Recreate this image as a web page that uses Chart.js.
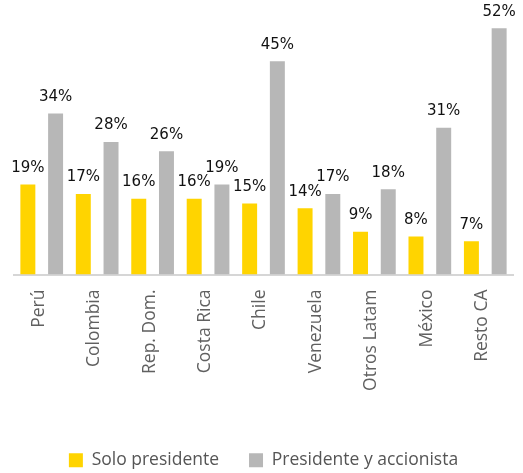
<!DOCTYPE html>
<html>
<head>
<meta charset="utf-8">
<script src="https://cdn.jsdelivr.net/npm/chart.js@4/dist/chart.umd.min.js"></script>
<style>
  html, body { margin: 0; padding: 0; background: #fff; }
  #wrap { width: 523px; height: 473px; }
</style>
</head>
<body>
<div id="wrap"><canvas id="chart"></canvas></div>
<script>
// Countries on the x axis
const categories = ['Perú', 'Colombia', 'Rep. Dom.', 'Costa Rica', 'Chile', 'Venezuela', 'Otros Latam', 'México', 'Resto CA'];

// Share of each answer, in percent
const soloPresidente = [19, 17, 16, 16, 15, 14, 9, 8, 7];
const presidenteAccionista = [34, 28, 26, 19, 45, 17, 18, 31, 52];

const seriesNames = ['Solo presidente', 'Presidente y accionista'];

// Draw the value above each bar
const valueLabels = {
  id: 'valueLabels',
  afterDatasetsDraw(chart) {
    const ctx = chart.ctx;
    ctx.save();
    ctx.font = '15px "DejaVu Sans"';
    ctx.fillStyle = '#111';
    ctx.textAlign = 'center';
    ctx.textBaseline = 'bottom';
    chart.data.datasets.forEach((ds, i) => {
      chart.getDatasetMeta(i).data.forEach((bar, j) => {
        ctx.fillText(ds.data[j] + '%', bar.x, bar.y - 9);
      });
    });
    ctx.restore();
  }
};

new Chart(document.getElementById('chart'), {
  type: 'bar',
  data: {
    labels: categories,
    datasets: [
      {
        label: seriesNames[0],
        data: soloPresidente,
        backgroundColor: '#FFD400',
        barPercentage: 0.54,
        categoryPercentage: 1
      },
      {
        label: seriesNames[1],
        data: presidenteAccionista,
        backgroundColor: '#B7B7B7',
        barPercentage: 0.54,
        categoryPercentage: 1
      }
    ]
  },
  options: {
    responsive: true,
    maintainAspectRatio: false,
    animation: false,
    layout: { padding: { top: 14, left: 14, right: 10, bottom: -6 } },
    plugins: {
      tooltip: { enabled: false },
      legend: {
        position: 'bottom',
        labels: {
          boxWidth: 14,
          boxHeight: 14,
          padding: 30,
          color: '#555',
          font: { family: '"Open Sans"', size: 17.5 }
        }
      }
    },
    scales: {
      x: {
        grid: { display: false, drawTicks: false },
        border: { display: true, color: '#D6D6D6', width: 2 },
        ticks: {
          minRotation: 90,
          maxRotation: 90,
          padding: 15,
          labelOffset: -3,
          color: '#606060',
          font: { family: '"Open Sans"', size: 17.5 }
        },
        afterFit(scale) { scale.height = 147; }
      },
      y: {
        display: false,
        min: 0,
        max: 55
      }
    }
  },
  plugins: [valueLabels]
});
</script>
</body>
</html>
